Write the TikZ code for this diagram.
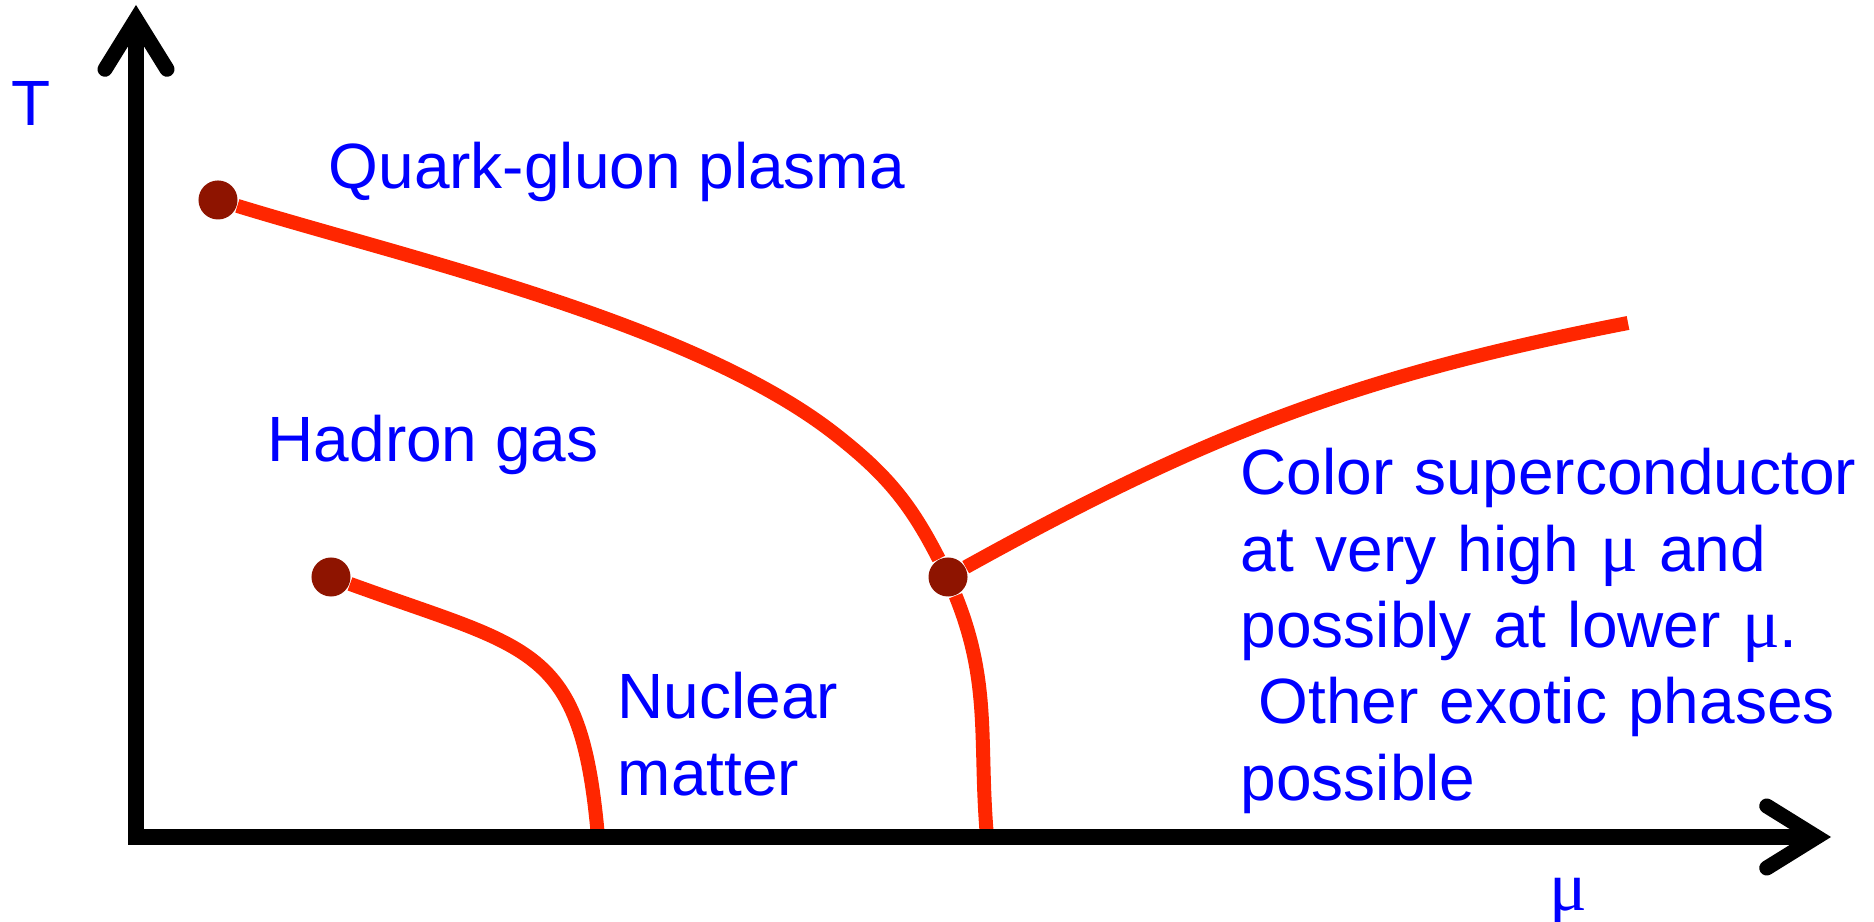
\documentclass[tikz,border=0pt]{standalone}
\usepackage{fontspec}
\setmainfont{Liberation Sans}
\newfontfamily\mufont{Liberation Serif}
\usetikzlibrary{arrows.meta,backgrounds}

\definecolor{linered}{RGB}{255,38,0}
\definecolor{dotred}{RGB}{142,20,0}
\definecolor{textblue}{RGB}{0,0,255}

\newcommand{\muin}{{\mufont\fontsize{20}{21.7}\selectfont μ}}

\begin{document}
\begin{tikzpicture}[
    x=0.01cm, y=0.01cm,
    >={Straight Barb[length=0.5cm, width=0.62cm, line cap=round]},
    axis/.style={<->, line width=0.15cm, black, line join=miter},
    pline/.style={line width=0.14cm, draw=linered},
    crit/.style={circle, fill=dotred, minimum size=0.39cm, inner sep=0pt},
    lbl/.style={text=textblue, font=\fontsize{18.2}{21.7}\selectfont,
                inner sep=0pt, anchor=base west},
    blk/.style={lbl, text width=12cm, align=left}
  ]
    \useasboundingbox (0,0) rectangle (1874,922);

    %--- Axes ---
    \coordinate (orig) at (136,85);
    \coordinate (ytip) at (136,917);
    \coordinate (xtip) at (1831,85);
    \draw[axis] (ytip) -- (orig) -- (xtip);

    %--- Critical points ---
    \node[crit] (cepa) at (218,722) {};
    \node[crit] (cepb) at (331,345) {};
    \node[crit] (trip) at (948,345) {};

    %--- End and way points of the phase lines ---
    \coordinate (upb)  at (835,488);
    \coordinate (upe)  at (987,85);
    \coordinate (lowe) at (598,85);
    \coordinate (rte)  at (1628,599);

    %--- Phase lines ---
    \begin{scope}[on background layer]
      \draw[pline] (cepa) to[out=-17, in=142, looseness=0.72] (upb)
                          to[out=-38, in=117] (trip)
                          to[out=-68, in=95]  (upe);
      \draw[pline] (trip) to[out=29, in=-169] (rte);
      \draw[pline] (cepb) to[out=-20, in=95, looseness=1.4] (lowe);
    \end{scope}

    %--- Labels ---
    \node[lbl] (tlab) at (11,796) {T};
    \node[lbl, font=\mufont\fontsize{20}{21.7}\selectfont] (mulab) at (1549,11) {μ};
    \node[lbl] (qgp) at (328,733) {Quark-gluon plasma};
    \node[lbl] (had) at (267,460) {Hadron gas};
    \node[blk] (nuc) at (617,203) {Nuclear\\matter};
    \node[blk] (csc) at (1240,427) {Color superconductor\\
      at very high \muin{} and\\
      possibly at lower \muin.\\
      \hspace*{0.278em}Other exotic phases\\
      possible};
\end{tikzpicture}
\end{document}
